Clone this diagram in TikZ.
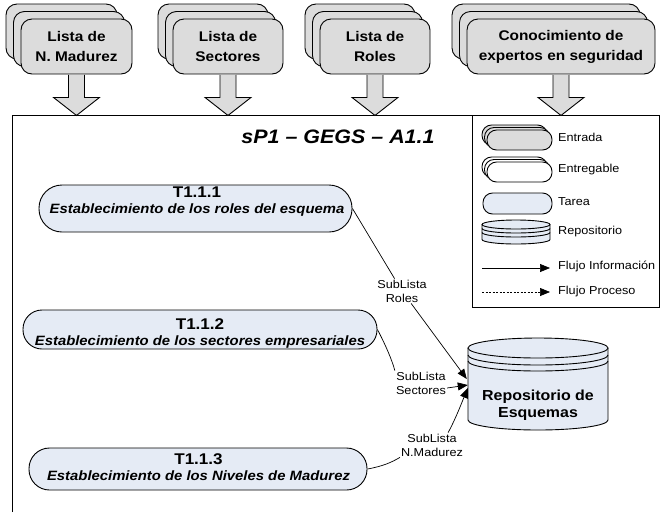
\documentclass[tikz,border=0pt]{standalone}
\usepackage{fontspec}
\setmainfont{Liberation Sans}[FakeStretch=1.1]
\usetikzlibrary{arrows.meta,calc}

\definecolor{cardgray}{HTML}{DCDCDC}
\definecolor{taskfill}{HTML}{E5EBF5}

\tikzset{
  edge/.style={line width=0.9pt, draw=black},
  card/.style={edge, fill=cardgray, rounded corners=11pt, inner sep=0pt, minimum height=55pt},
  cardtext/.style={font=\fontsize{14}{20}\selectfont\bfseries, align=center},
  feed/.style={edge, fill=cardgray, line join=miter},
  task/.style={edge, fill=taskfill, inner sep=0pt},
  tasktext/.style={align=center, inner sep=0pt, font=\fontsize{13.5}{16}\selectfont\bfseries\itshape},
  flow/.style={line width=0.7pt, -{Triangle[length=10pt,width=8pt]}},
  plain/.style={line width=0.7pt},
  lbl/.style={font=\fontsize{11.5}{14}\selectfont, align=center, fill=white, inner sep=1pt},
  legtext/.style={font=\fontsize{11.5}{14}\selectfont, anchor=west, inner sep=0pt},
  mini/.style={edge, minimum width=65pt, minimum height=20pt, rounded corners=9.5pt, inner sep=0pt},
}

% three stacked input cards: name, centre x, centre y, width, text
\newcommand\cardstack[5]{%
  \node[card, minimum width=#4] (#1b2) at ({#2-15},{#3-15}) {};
  \node[card, minimum width=#4] (#1b1) at ({#2-7.5},{#3-7.5}) {};
  \node[card, cardtext, minimum width=#4] (#1) at (#2,#3) {#5};
}
% block arrow hanging below a card
\newcommand\feedarrow[1]{%
  \filldraw[feed] ($(#1.south)+(-8,0.5)$) -- ++(0,22.5) -- ++(-15,0) -- ++(23,18)
    -- ++(23,-18) -- ++(-15,0) -- ++(0,-22.5);
}
% small stacked legend shapes: name, centre x, centre y, fill
\newcommand\ministack[4]{%
  \node[mini, fill=#4] (#1b2) at ({#2-5},{#3-5}) {};
  \node[mini, fill=#4] (#1b1) at ({#2-2.5},{#3-2.5}) {};
  \node[mini, fill=#4] (#1) at (#2,#3) {};
}
% drum: centre x, top centre y, x radius, y radius, bottom centre y, ring offsets
\newcommand\drum[6]{%
  \filldraw[edge, fill=taskfill] ({#1-#3},#2) -- ({#1-#3},#5)
    .. controls ({#1-#3},{#5+0.5523*#4}) and ({#1-0.5523*#3},{#5+#4}) .. (#1,{#5+#4})
    .. controls ({#1+0.5523*#3},{#5+#4}) and ({#1+#3},{#5+0.5523*#4}) .. ({#1+#3},#5)
    -- ({#1+#3},#2);
  \filldraw[edge, fill=taskfill] (#1,#2) ellipse [x radius=#3, y radius=#4];
  \foreach \d in {#6} {
    \draw[edge] ({#1-#3},{#2+\d})
      .. controls ({#1-#3},{#2+\d+0.5523*#4}) and ({#1-0.5523*#3},{#2+\d+#4}) .. (#1,{#2+\d+#4})
      .. controls ({#1+0.5523*#3},{#2+\d+#4}) and ({#1+#3},{#2+\d+0.5523*#4}) .. ({#1+#3},{#2+\d});
  }
}

\begin{document}
\begin{tikzpicture}[x=1pt, y=-1pt]
\useasboundingbox (0,0) rectangle (660,512);

% activity frame and legend box
\draw[edge] (12,512) -- (12,115) -- (472,115);
\draw[edge] (472,115) rectangle (659,307);

% inputs
\cardstack{in1}{76.5}{46.5}{111}{Lista de\\N. Madurez}
\cardstack{in2}{228}{46.5}{110}{Lista de\\Sectores}
\cardstack{in3}{375}{46.5}{110}{Lista de\\Roles}
\cardstack{in4}{561}{46.5}{188}{Conocimiento de\\expertos en seguridad}
\feedarrow{in1}
\feedarrow{in2}
\feedarrow{in3}
\feedarrow{in4}

% title
\node[inner sep=0pt, font=\fontsize{19.5}{22}\selectfont\bfseries\itshape] (title) at (338,137) {sP1 – GEGS – A1.1};

% tasks
\node[task, minimum width=313pt, minimum height=47pt, rounded corners=23pt] (t1) at (195.5,208.5) {};
\node[tasktext] (t1l) at (197,201.5) {{\fontsize{15.5}{16}\selectfont\upshape T1.1.1}\\Establecimiento de los roles del esquema};
\node[task, minimum width=354pt, minimum height=39pt, rounded corners=19pt] (t2) at (200,329.5) {};
\node[tasktext] (t2l) at (200,333) {{\fontsize{15.5}{16}\selectfont\upshape T1.1.2}\\Establecimiento de los sectores empresariales};
\node[task, minimum width=338pt, minimum height=42pt, rounded corners=20.5pt] (t3) at (198,469) {};
\node[tasktext] (t3l) at (198.5,467.5) {{\fontsize{15.5}{16}\selectfont\upshape T1.1.3}\\Establecimiento de los Niveles de Madurez};

% repository
\drum{538}{348}{70}{10}{420}{7,13}
\node[inner sep=0pt, minimum width=140pt, minimum height=92pt] (repo) at (538,384) {};
\node[inner sep=0pt, align=center, font=\fontsize{14.5}{17}\selectfont\bfseries] (repol) at (538,405) {Repositorio de\\Esquemas};
\coordinate (tipR) at ($(repo.west)+(-1,-5)$);
\coordinate (tipS) at ($(repo.west)+(0,1)$);
\coordinate (tipM) at ($(repo.west)+(0,4)$);

% flow labels
\node[lbl] (lr) at (402,291) {SubLista\\Roles};
\node[lbl] (ls) at (421,383) {SubLista\\Sectores};
\node[lbl] (lm) at (432,445) {SubLista\\N.Madurez};

% information flows
\draw[plain] (t1.east) -- (lr);
\draw[flow] (lr) -- (tipR);
\draw[plain] (t2.east) .. controls (386,346) and (392,360) .. (ls.north west);
\draw[flow] ([yshift=-5pt]ls.east) -- (tipS);
\draw[plain] (t3.east) .. controls (384,466) and (392,462) .. (lm.south west);
\draw[flow] ([xshift=-16pt]lm.north east) .. controls (456,418) and (462,402) .. (tipM);

% legend
\ministack{le1}{519.5}{140}{cardgray}
\node[legtext] (lg1) at (558,137) {Entrada};
\ministack{le2}{519.5}{172}{white}
\node[legtext] (lg2) at (558,170) {Entregable};
\node[mini, fill=taskfill, minimum width=69pt, minimum height=21pt] (le3) at (517.5,203.5) {};
\node[legtext] (lg3) at (558,202) {Tarea};
\drum{516}{224.5}{34}{4.5}{239.5}{4,8}
\node[legtext] (lg4) at (558,232) {Repositorio};
\coordinate (fa1) at (482,268);
\coordinate (fa2) at (550,268);
\draw[flow] (fa1) -- (fa2);
\node[legtext] (lg5) at (558,266) {Flujo Información};
\coordinate (fb1) at (482,292);
\coordinate (fb2) at (550,292);
\draw[flow, dash pattern=on 2pt off 1.5pt] (fb1) -- (fb2);
\node[legtext] (lg6) at (558,292) {Flujo Proceso};
\end{tikzpicture}
\end{document}
